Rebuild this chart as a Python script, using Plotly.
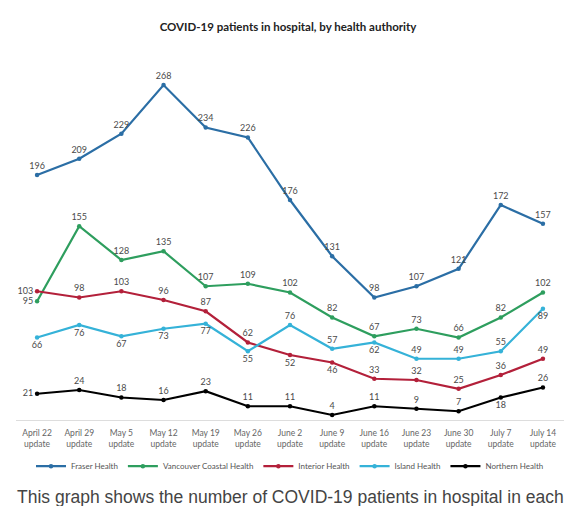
import plotly.graph_objects as go

updates = ["April 22", "April 29", "May 5", "May 12", "May 19", "May 26", "June 2",
           "June 9", "June 16", "June 23", "June 30", "July 7", "July 14"]
categories = [u + "<br>update" for u in updates]

fraser = [196, 209, 229, 268, 234, 226, 176, 131, 98, 107, 121, 172, 157]
vancouver_coastal = [95, 155, 128, 135, 107, 109, 102, 82, 67, 73, 66, 82, 102]
interior = [103, 98, 103, 96, 87, 62, 52, 46, 33, 32, 25, 36, 49]
island = [66, 76, 67, 73, 77, 55, 76, 57, 62, 49, 49, 55, 89]
northern = [21, 24, 18, 16, 23, 11, 11, 4, 11, 9, 7, 18, 26]

T, B, L = "top center", "bottom center", "middle left"

series = [
    ("Fraser Health", fraser, "#2B6EA5", [T] * 13),
    ("Vancouver Coastal Health", vancouver_coastal, "#2E9E5E", [L] + [T] * 12),
    ("Interior Health", interior, "#B3203A", [L, T, T, T, T, T, B, B, T, T, T, T, T]),
    ("Island Health", island, "#35B2D8", [B, B, B, B, B, B, T, T, B, T, T, T, B]),
    ("Northern Health", northern, "#000000", [L] + [T] * 10 + [B, T]),
]

fig = go.Figure()
for name, values, color, positions in series:
    fig.add_trace(go.Scatter(
        x=categories,
        y=values,
        name=name,
        mode="lines+markers+text",
        line=dict(color=color, width=2.2),
        marker=dict(color=color, size=4.5),
        text=[str(v) for v in values],
        textposition=positions,
        textfont=dict(size=9, color="#4a4a4a", family="Lato"),
        cliponaxis=False,
    ))

# page body adds an 8px margin, so the figure is sized to fit inside it
fig.update_layout(
    width=560,
    height=498,
    margin=dict(t=37, b=86, l=8, r=4),
    paper_bgcolor="white",
    plot_bgcolor="white",
    font=dict(family="Lato", color="#4a4a4a"),
    title=dict(
        text="<b>COVID-19 patients in hospital, by health authority</b>",
        x=0.5, xanchor="center", y=0.962, yanchor="middle",
        font=dict(size=11.5, color="#222222", family="Lato"),
    ),
    xaxis=dict(
        range=[-0.5, 12.5],
        showgrid=False,
        showline=True,
        linecolor="#dddddd",
        linewidth=1,
        ticks="",
        ticklabelstandoff=5,
        tickfont=dict(size=8.5, color="#666666"),
        tickangle=0,
    ),
    yaxis=dict(
        range=[0, 300],
        showgrid=False,
        zeroline=False,
        showticklabels=False,
        showline=False,
    ),
    legend=dict(
        orientation="h",
        x=0.5, xanchor="center",
        y=-0.123, yanchor="middle",
        font=dict(size=8, color="#555555"),
        itemwidth=30,
        tracegroupgap=0,
    ),
    showlegend=True,
)

fig.add_annotation(
    text="This graph shows the number of COVID-19 patients in hospital in each",
    xref="paper", yref="paper",
    x=0.5, xanchor="center",
    y=-0.205, yanchor="middle",
    showarrow=False,
    font=dict(size=17.5, color="#444444", family="Liberation Sans"),
)

fig.write_html("out.html")
